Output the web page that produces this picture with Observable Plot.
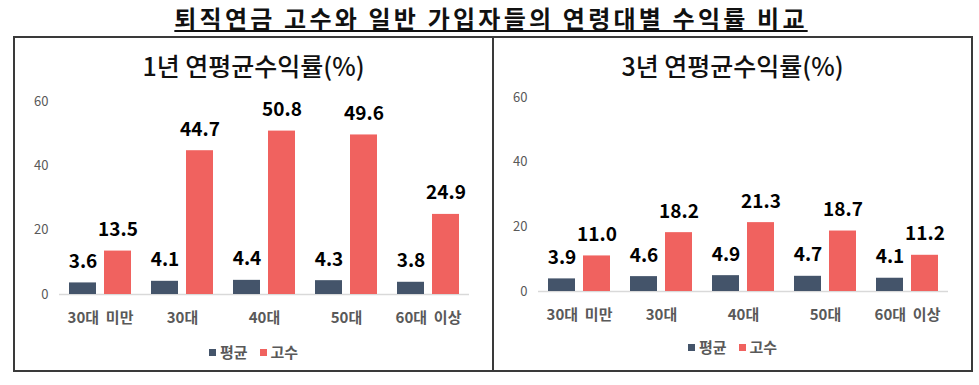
<!DOCTYPE html>
<html>
<head>
<meta charset="utf-8">
<script src="https://cdn.jsdelivr.net/npm/d3@7"></script>
<script src="https://cdn.jsdelivr.net/npm/@observablehq/plot@0.6"></script>
<style>
  body { margin:0; background:#fff; }
  #wrap { position:relative; width:979px; height:385px; font-family:'Noto Sans CJK KR', sans-serif; }
  #title { position:absolute; left:491px; transform:translateX(-50%); top:0px; white-space:nowrap; font-size:24px; font-weight:bold; letter-spacing:3.2px;
           text-decoration:underline; text-decoration-thickness:2px; text-underline-offset:2px; color:#111; line-height:35px; }
  .panel { position:absolute; top:36px; width:481px; height:336px; border:2px solid #3a3a3a; box-sizing:border-box; }
  .ptitle { position:absolute; left:0; right:0; text-align:center; font-size:25px; font-weight:500; color:#111; line-height:36px; }
  .chart { position:absolute; left:0; top:0; }
  .legend { position:absolute; left:0; right:0; display:flex; justify-content:center; align-items:center; font-size:15px; font-weight:bold; color:#595959; line-height:22px; }
  .sw { display:inline-block; width:7px; height:7px; margin-right:4px; }
  .item { display:flex; align-items:center; margin:0 6px; }
</style>
</head>
<body>
<div id="wrap">
  <div id="title">퇴직연금 고수와 일반 가입자들의 연령대별 수익률 비교</div>
  <div class="panel" id="p1" style="left:13px"></div>
  <div class="panel" id="p2" style="left:492px"></div>
</div>
<script>
const categories = ["30대  미만", "30대", "40대", "50대", "60대  이상"];
const series = ["평균", "고수"];
const colors = ["#44546A", "#F0625F"];
const yTicks = [0, 20, 40, 60];
const titles = ["1년  연평균수익률(%)", "3년  연평균수익률(%)"];
const avg1 = [3.6, 4.1, 4.4, 4.3, 3.8];
const pro1 = [13.5, 44.7, 50.8, 49.6, 24.9];
const avg3 = [3.9, 4.6, 4.9, 4.7, 4.1];
const pro3 = [11.0, 18.2, 21.3, 18.7, 11.2];

function build(el, title, avg, pro, o) {
  const data = [];
  categories.forEach((c, i) => {
    data.push({cat: c, s: series[0], v: avg[i]});
    data.push({cat: c, s: series[1], v: pro[i]});
  });
  const t = document.createElement("div");
  t.className = "ptitle"; t.style.top = o.titleTop + "px"; t.textContent = title;
  el.appendChild(t);
  const svg = Plot.plot({
    width: 477, height: 332,
    marginLeft: 43, marginRight: o.mr, marginTop: o.mt, marginBottom: o.mb,
    style: {fontFamily: "'Noto Sans CJK KR', sans-serif", background: "transparent", overflow: "visible"},
    fx: {domain: categories, padding: 0, label: null},
    x: {domain: series, paddingInner: 0.225, paddingOuter: 0.28, axis: null},
    y: {domain: [0, 60], label: null},
    color: {domain: series, range: colors},
    marks: [
      Plot.ruleY([0], {stroke: "#d9d9d9", strokeWidth: 1.5}),
      Plot.barY(data, {fx: "cat", x: "s", y: "v", fill: "s"}),
      Plot.text(data, {fx: "cat", x: "s", y: "v", text: d => d.v.toFixed(1), dy: -21, fontSize: 19, fontWeight: "bold", fill: "#000"}),
      Plot.axisY({ticks: yTicks, tickSize: 0, tickPadding: 11, fontSize: 13, color: "#595959", label: null}),
      Plot.axisFx({anchor: "bottom", tickSize: 0, tickPadding: o.fxPad, fontSize: 15, fontWeight: "bold", color: "#595959", label: null})
    ]
  });
  svg.classList.add("chart");
  svg.querySelectorAll("text").forEach(n => n.style.whiteSpace = "pre");
  el.appendChild(svg);
  const lg = document.createElement("div");
  lg.className = "legend"; lg.style.top = o.legTop + "px";
  series.forEach((s, i) => {
    const it = document.createElement("span"); it.className = "item";
    const sw = document.createElement("span"); sw.className = "sw"; sw.style.background = colors[i];
    const tx = document.createElement("span"); tx.textContent = s;
    it.appendChild(sw); it.appendChild(tx); lg.appendChild(it);
  });
  el.appendChild(lg);
}
build(document.getElementById("p1"), titles[0], avg1, pro1, {mr: 22, mt: 63, mb: 76, fxPad: 18, titleTop: 9, legTop: 303});
build(document.getElementById("p2"), titles[1], avg3, pro3, {mr: 23, mt: 59, mb: 79, fxPad: 18, titleTop: 9, legTop: 298});
</script>
</body>
</html>
